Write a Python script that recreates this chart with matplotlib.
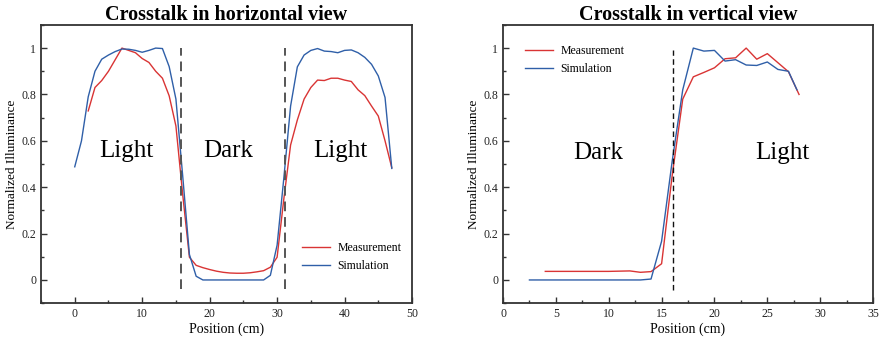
import matplotlib
matplotlib.use("Agg")
import matplotlib.pyplot as plt
from matplotlib.ticker import MultipleLocator

plt.rcParams['font.family'] = ['Liberation Serif', 'DejaVu Serif']

# ---- Left panel data (horizontal view) ----
h_sim_x = list(range(0, 48))
h_sim_y = [0.488, 0.60, 0.79, 0.90, 0.952, 0.970, 0.985, 0.996, 0.995, 0.990,
           0.982, 0.990, 1.000, 0.998, 0.920, 0.780, 0.450, 0.110, 0.016, 0.0,
           0.0, 0.0, 0.0, 0.0, 0.0, 0.0, 0.0, 0.0, 0.0, 0.020,
           0.150, 0.440, 0.750, 0.919, 0.970, 0.990, 0.998, 0.987, 0.985, 0.980,
           0.990, 0.992, 0.980, 0.960, 0.930, 0.880, 0.787, 0.481]
h_meas_x = list(range(2, 48))
h_meas_y = [0.729, 0.830, 0.860, 0.900, 0.950, 1.000, 0.990, 0.980, 0.955, 0.938,
            0.900, 0.870, 0.794, 0.664, 0.370, 0.098, 0.063, 0.053, 0.045, 0.038,
            0.033, 0.030, 0.029, 0.029, 0.031, 0.035, 0.040, 0.055, 0.098, 0.350,
            0.582, 0.690, 0.780, 0.830, 0.862, 0.860, 0.870, 0.870, 0.862, 0.856,
            0.820, 0.795, 0.750, 0.707, 0.600, 0.484]
h_bounds = [15.8, 31.2]
h_regions = ["Light", "Dark", "Light"]
h_region_x = [7.7, 22.7, 39.4]

# ---- Right panel data (vertical view) ----
v_sim_x = [2.5, 4, 5, 6, 7, 8, 9, 10, 11, 12, 13, 14, 15, 16, 17, 18, 19, 20,
           21, 22, 23, 24, 25, 26, 27, 27.8]
v_sim_y = [0.0, 0.0, 0.0, 0.0, 0.0, 0.0, 0.0, 0.0, 0.0, 0.0, 0.0, 0.004, 0.167,
           0.512, 0.820, 1.000, 0.987, 0.990, 0.944, 0.950, 0.927, 0.925, 0.940,
           0.908, 0.900, 0.820]
v_meas_x = [4, 5, 6, 7, 8, 9, 10, 11, 12, 13, 14, 15, 16, 17, 18, 19, 20, 21,
            22, 23, 24, 25, 26, 27, 28]
v_meas_y = [0.037, 0.037, 0.037, 0.037, 0.037, 0.037, 0.037, 0.038, 0.039, 0.033,
            0.036, 0.070, 0.450, 0.780, 0.876, 0.895, 0.915, 0.954, 0.958, 1.000,
            0.952, 0.976, 0.937, 0.898, 0.800]
v_bounds = [16.1]
v_regions = ["Dark", "Light"]
v_region_x = [9.0, 26.4]

RED = "#d93434"
BLUE = "#2f5fa8"
SPINE = "#333333"

fig = plt.figure(figsize=(8.8, 3.41), dpi=100)
ax1 = fig.add_axes([0.0466, 0.111, 0.4216, 0.816])
ax2 = fig.add_axes([0.5716, 0.111, 0.4205, 0.816])


def style(ax, xmaj, xmin):
    ax.set_ylim(-0.1, 1.1)
    ax.xaxis.set_major_locator(MultipleLocator(xmaj))
    ax.xaxis.set_minor_locator(MultipleLocator(xmin))
    ax.yaxis.set_major_locator(MultipleLocator(0.2))
    ax.yaxis.set_minor_locator(MultipleLocator(0.1))
    ax.yaxis.set_major_formatter(plt.FuncFormatter(lambda v, p: f"{v:g}"))
    ax.tick_params(which='both', direction='in', top=False, right=False,
                   colors=SPINE, labelsize=8.5, labelcolor='#222222')
    ax.tick_params(which='major', length=4, width=1)
    ax.tick_params(which='minor', length=2.5, width=1)
    for s in ax.spines.values():
        s.set_color(SPINE)
        s.set_linewidth(1.3)
    ax.set_xlabel("Position (cm)", fontsize=10, labelpad=2)
    ax.set_ylabel("Normalized Illuminance", fontsize=9.5, labelpad=2)


# Left
ax1.plot(h_meas_x, h_meas_y, color=RED, lw=1.0, label="Measurement")
ax1.plot(h_sim_x, h_sim_y, color=BLUE, lw=1.0, label="Simulation")
for b in h_bounds:
    ax1.plot([b, b], [-0.04, 1.0], color="#555555", lw=1.4, ls=(0, (5, 3)))
for t, x in zip(h_regions, h_region_x):
    ax1.text(x, 0.556, t, fontsize=18, ha='center', va='center')
ax1.set_xlim(-5, 50)
style(ax1, 10, 5)
ax1.set_title("Crosstalk in horizontal view", fontsize=14.5, fontweight='bold', pad=3)
ax1.legend(loc='lower right', bbox_to_anchor=(1.0, 0.075), frameon=False,
           fontsize=8.5, handlelength=2.4, handletextpad=0.6, labelspacing=0.5)

# Right
ax2.plot(v_meas_x, v_meas_y, color=RED, lw=1.0, label="Measurement")
ax2.plot(v_sim_x, v_sim_y, color=BLUE, lw=1.0, label="Simulation")
for b in v_bounds:
    ax2.plot([b, b], [-0.045, 0.99], color="#111111", lw=1.0, ls=(0, (4, 2.5)))
for t, x in zip(v_regions, v_region_x):
    ax2.text(x, 0.548, t, fontsize=18, ha='center', va='center')
ax2.set_xlim(0, 35)
style(ax2, 5, 2.5)
ax2.set_title("Crosstalk in vertical view", fontsize=14.5, fontweight='bold', pad=3)
ax2.legend(loc='upper left', bbox_to_anchor=(0.03, 0.965), frameon=False,
           fontsize=8.5, handlelength=2.4, handletextpad=0.6, labelspacing=0.5)

fig.savefig("out.png", dpi=100)
